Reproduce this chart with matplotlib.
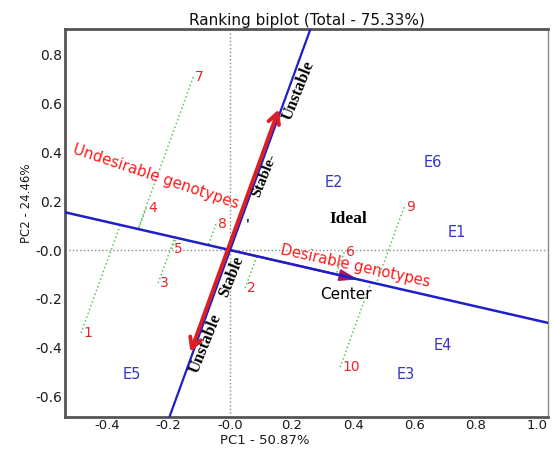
import numpy as np
import matplotlib
matplotlib.use("Agg")
import matplotlib.pyplot as plt
from matplotlib.ticker import FuncFormatter
from matplotlib.transforms import offset_copy

# ---- data ----
genotypes = ['1', '2', '3', '4', '5', '6', '7', '8', '9', '10']
gen_x = [-0.485, 0.049, -0.234, -0.273, -0.189, 0.371, -0.120, -0.046, 0.566, 0.358]
gen_y = [-0.340, -0.156, -0.135, 0.172, 0.004, -0.008, 0.709, 0.107, 0.176, -0.480]

environments = ['E1', 'E2', 'E3', 'E4', 'E5', 'E6']
env_x = [0.738, 0.338, 0.572, 0.693, -0.319, 0.660]
env_y = [0.074, 0.279, -0.508, -0.393, -0.508, 0.357]

center = [0.416, -0.120]          # average environment coordinate
arrow_up_len = 0.60               # length of "Unstable" arrow (upwards)
arrow_down_len = -0.435           # length of "Unstable" arrow (downwards)

xticks = [-0.4, -0.2, 0.0, 0.2, 0.4, 0.6, 0.8, 1.0]
yticks = [-0.6, -0.4, -0.2, 0.0, 0.2, 0.4, 0.6, 0.8]
xlim = (-0.537, 1.034)
ylim = (-0.684, 0.906)

title = "Ranking biplot (Total - 75.33%)"
xlabel = "PC1 - 50.87%"
ylabel = "PC2 - 24.46%"

# ---- figure ----
fig = plt.figure(figsize=(5.53, 4.5), dpi=100)
ax = fig.add_axes([65/553, 1-417/450, (548-65)/553, (417-29)/450])
ax.set_xlim(*xlim)
ax.set_ylim(*ylim)

RED = '#e8262a'
BLUE = '#1f1fc8'
ENV_BLUE = '#3535c8'
GREEN = '#5cc45c'

# dotted reference lines
ax.axhline(0, color='#8a8a8a', lw=1, ls=':', zorder=1)
ax.axvline(0, color='#8a8a8a', lw=1, ls=':', zorder=1)

c = np.array(center)
a = c / np.linalg.norm(c)
b = np.array([-a[1], a[0]])

# green projection lines (parallel to ordinate) onto AEA abscissa
for gx, gy in zip(gen_x, gen_y):
    g = np.array([gx, gy])
    p = np.dot(g, a) * a
    ax.plot([gx, p[0]], [gy, p[1]], color=GREEN, lw=1.1, ls=':', zorder=2)

# center arrow
ax.annotate('', xy=(c[0], c[1]), xytext=(0, 0),
            arrowprops=dict(arrowstyle='-|>,head_length=1.1,head_width=0.35',
                            color='#a0186a', lw=1.5, shrinkA=0, shrinkB=0), zorder=3)

# blue axes
ax.axline((0, 0), (c[0], c[1]), color=BLUE, lw=1.8, zorder=4)
ax.axline((0, 0), (b[0], b[1]), color=BLUE, lw=1.6, zorder=4)

# red arrows (slightly offset to the left of the ordinate)
tr = offset_copy(ax.transData, fig=fig, x=-2.5, y=0, units='dots')
for L in (arrow_up_len, arrow_down_len):
    tip = b * L
    ax.annotate('', xy=(tip[0], tip[1]), xytext=(0, 0), xycoords=tr, textcoords=tr,
                arrowprops=dict(arrowstyle='->,head_length=0.75,head_width=0.4',
                                color='#dc1f24', lw=2.8, shrinkA=0, shrinkB=0),
                zorder=5)

# genotype labels
for name, gx, gy in zip(genotypes, gen_x, gen_y):
    ax.annotate(name, (gx, gy), xytext=(1.5, 0), textcoords='offset points',
                ha='left', va='center', color=RED, fontsize=10, zorder=6)

# environment labels
for name, ex, ey in zip(environments, env_x, env_y):
    ax.text(ex, ey, name, ha='center', va='center', color=ENV_BLUE,
            fontsize=10.5, zorder=6)

# annotations
serif = 'Liberation Serif'
ax.text(0.224, 0.656, 'Unstable', rotation=68, ha='center', va='center',
        family=serif, weight='bold', fontsize=12, zorder=6)
ax.text(0.111, 0.307, 'Stable-', rotation=68, ha='center', va='center',
        family=serif, weight='bold', fontsize=11, zorder=6)
ax.text(0.003, -0.107, 'Stable', rotation=68, ha='center', va='center',
        family=serif, weight='bold', fontsize=11.5, zorder=6)
ax.text(-0.081, -0.381, 'Unstable', rotation=68, ha='center', va='center',
        family=serif, weight='bold', fontsize=12, zorder=6)
ax.text(0.059, 0.102, "'", ha='center', va='center', family=serif,
        weight='bold', fontsize=10, zorder=6)
ax.text(0.384, 0.127, 'Ideal', ha='center', va='center', family=serif,
        weight='bold', fontsize=12.5, zorder=6)
ax.text(0.377, -0.184, 'Center', ha='center', va='center', fontsize=11, zorder=6)
ax.text(0.407, -0.066, 'Desirable genotypes', rotation=-12.4, ha='center',
        va='center', color='#ff1a1a', fontsize=10.6, zorder=6,
        rotation_mode='anchor')
ax.text(-0.241, 0.299, 'Undesirable genotypes', rotation=-18.6, ha='center',
        va='center', color='#ff1a1a', fontsize=10.8, zorder=6,
        rotation_mode='anchor')

# ticks / labels
fmt = FuncFormatter(lambda v, p: '-0.0' if abs(v) < 1e-9 else f'{v:.1f}')
ax.set_xticks(xticks)
ax.set_yticks(yticks)
ax.xaxis.set_major_formatter(fmt)
ax.yaxis.set_major_formatter(fmt)
ax.tick_params(axis='both', length=0, labelsize=10, colors='#1a1a1a')
ax.tick_params(axis='x', pad=1.5, labelsize=9.5)
ax.tick_params(axis='y', pad=2)

ax.set_title(title, fontsize=11, pad=3, color='#111111')
ax.set_xlabel(xlabel, fontsize=9.5, color='#1a1a1a')
ax.xaxis.set_label_coords(0.414, -0.0445)
ax.set_ylabel(ylabel, fontsize=8.5, color='#1a1a1a')
ax.yaxis.set_label_coords(-0.066, 0.55)

for s in ('left', 'bottom', 'top'):
    ax.spines[s].set_color('#555555')
    ax.spines[s].set_linewidth(2)
ax.spines['right'].set_color('#8a8a8a')
ax.spines['right'].set_linewidth(1)

fig.savefig('out.png', dpi=100)
